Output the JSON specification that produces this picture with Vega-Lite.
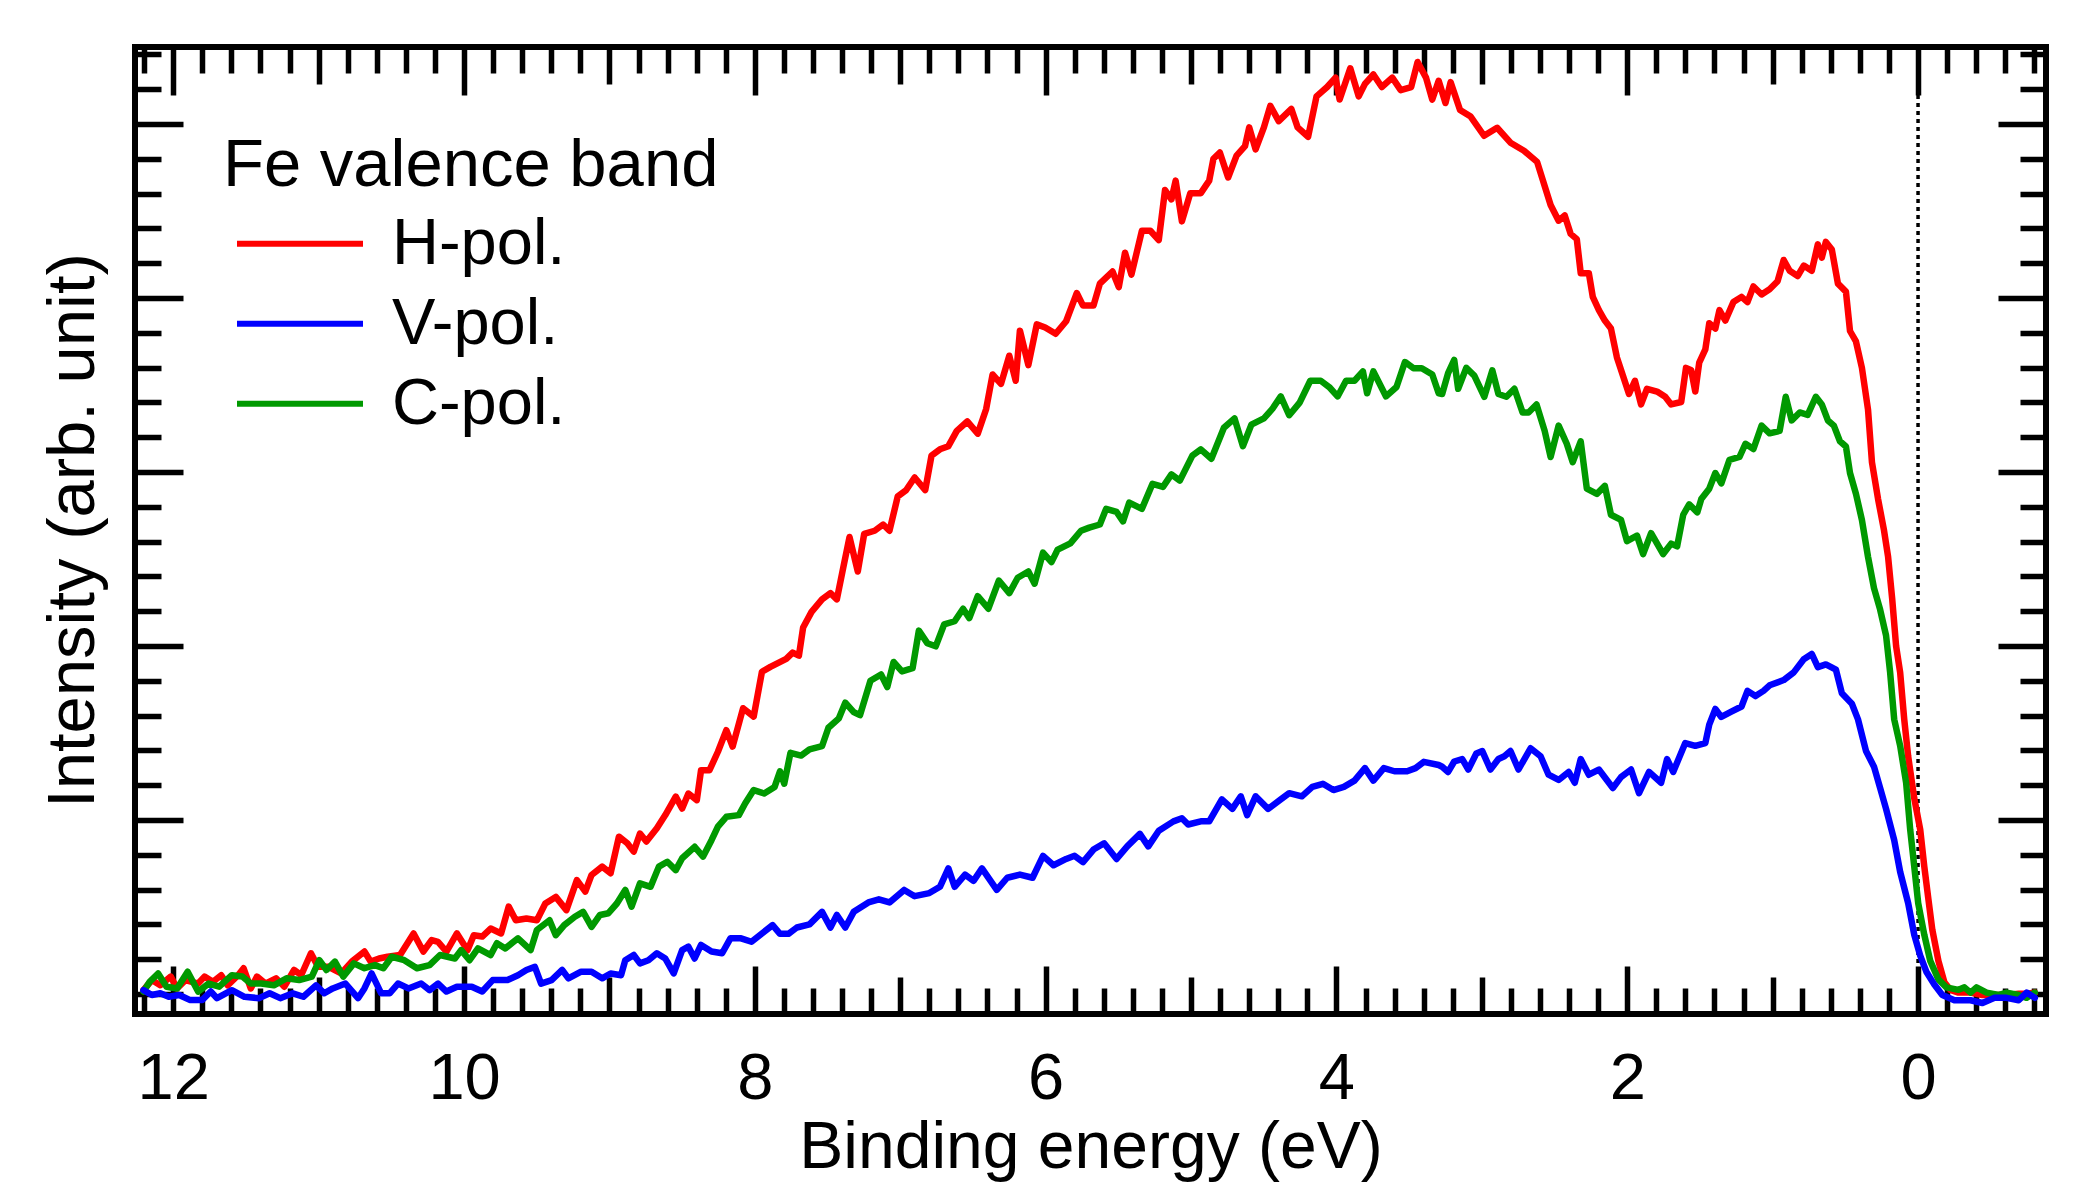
{
  "$schema": "https://vega.github.io/schema/vega-lite/v6.json",
  "width": 1911,
  "height": 967,
  "autosize": {"type": "none"},
  "padding": {"left": 135, "top": 47, "right": 50, "bottom": 169},
  "background": "white",
  "data": {"values": [
    {"E":12.205,"I":0.11,"s":"H-pol."},{"E":12.147,"I":0.40,"s":"H-pol."},{"E":12.089,"I":0.25,"s":"H-pol."},{"E":12.017,"I":0.50,"s":"H-pol."},{"E":11.974,"I":0.16,"s":"H-pol."},{"E":11.916,"I":0.40,"s":"H-pol."},{"E":11.829,"I":0.30,"s":"H-pol."},{"E":11.785,"I":0.50,"s":"H-pol."},{"E":11.727,"I":0.35,"s":"H-pol."},{"E":11.670,"I":0.54,"s":"H-pol."},{"E":11.626,"I":0.25,"s":"H-pol."},{"E":11.554,"I":0.54,"s":"H-pol."},{"E":11.516,"I":0.74,"s":"H-pol."},{"E":11.467,"I":0.16,"s":"H-pol."},{"E":11.424,"I":0.50,"s":"H-pol."},{"E":11.366,"I":0.30,"s":"H-pol."},{"E":11.293,"I":0.45,"s":"H-pol."},{"E":11.236,"I":0.21,"s":"H-pol."},{"E":11.169,"I":0.69,"s":"H-pol."},{"E":11.120,"I":0.54,"s":"H-pol."},{"E":11.053,"I":1.17,"s":"H-pol."},{"E":11.004,"I":0.78,"s":"H-pol."},{"E":10.932,"I":0.78,"s":"H-pol."},{"E":10.845,"I":0.59,"s":"H-pol."},{"E":10.772,"I":0.93,"s":"H-pol."},{"E":10.685,"I":1.22,"s":"H-pol."},{"E":10.642,"I":0.93,"s":"H-pol."},{"E":10.584,"I":1.02,"s":"H-pol."},{"E":10.526,"I":1.07,"s":"H-pol."},{"E":10.440,"I":1.12,"s":"H-pol."},{"E":10.347,"I":1.74,"s":"H-pol."},{"E":10.280,"I":1.22,"s":"H-pol."},{"E":10.222,"I":1.55,"s":"H-pol."},{"E":10.179,"I":1.50,"s":"H-pol."},{"E":10.121,"I":1.22,"s":"H-pol."},{"E":10.049,"I":1.74,"s":"H-pol."},{"E":9.976,"I":1.26,"s":"H-pol."},{"E":9.933,"I":1.69,"s":"H-pol."},{"E":9.875,"I":1.65,"s":"H-pol."},{"E":9.817,"I":1.88,"s":"H-pol."},{"E":9.745,"I":1.74,"s":"H-pol."},{"E":9.693,"I":2.51,"s":"H-pol."},{"E":9.644,"I":2.12,"s":"H-pol."},{"E":9.571,"I":2.17,"s":"H-pol."},{"E":9.499,"I":2.12,"s":"H-pol."},{"E":9.441,"I":2.60,"s":"H-pol."},{"E":9.369,"I":2.79,"s":"H-pol."},{"E":9.296,"I":2.41,"s":"H-pol."},{"E":9.224,"I":3.27,"s":"H-pol."},{"E":9.166,"I":2.94,"s":"H-pol."},{"E":9.123,"I":3.42,"s":"H-pol."},{"E":9.050,"I":3.66,"s":"H-pol."},{"E":8.992,"I":3.47,"s":"H-pol."},{"E":8.935,"I":4.52,"s":"H-pol."},{"E":8.877,"I":4.33,"s":"H-pol."},{"E":8.833,"I":4.09,"s":"H-pol."},{"E":8.790,"I":4.61,"s":"H-pol."},{"E":8.746,"I":4.38,"s":"H-pol."},{"E":8.674,"I":4.76,"s":"H-pol."},{"E":8.616,"I":5.14,"s":"H-pol."},{"E":8.544,"I":5.67,"s":"H-pol."},{"E":8.500,"I":5.33,"s":"H-pol."},{"E":8.457,"I":5.76,"s":"H-pol."},{"E":8.399,"I":5.57,"s":"H-pol."},{"E":8.370,"I":6.43,"s":"H-pol."},{"E":8.312,"I":6.43,"s":"H-pol."},{"E":8.254,"I":6.96,"s":"H-pol."},{"E":8.196,"I":7.58,"s":"H-pol."},{"E":8.153,"I":7.11,"s":"H-pol."},{"E":8.081,"I":8.21,"s":"H-pol."},{"E":8.008,"I":7.97,"s":"H-pol."},{"E":7.951,"I":9.26,"s":"H-pol."},{"E":7.893,"I":9.40,"s":"H-pol."},{"E":7.784,"I":9.63,"s":"H-pol."},{"E":7.740,"I":9.81,"s":"H-pol."},{"E":7.697,"I":9.72,"s":"H-pol."},{"E":7.668,"I":10.53,"s":"H-pol."},{"E":7.610,"I":10.98,"s":"H-pol."},{"E":7.538,"I":11.34,"s":"H-pol."},{"E":7.480,"I":11.52,"s":"H-pol."},{"E":7.436,"I":11.34,"s":"H-pol."},{"E":7.393,"I":12.23,"s":"H-pol."},{"E":7.349,"I":13.13,"s":"H-pol."},{"E":7.292,"I":12.14,"s":"H-pol."},{"E":7.248,"I":13.22,"s":"H-pol."},{"E":7.176,"I":13.31,"s":"H-pol."},{"E":7.118,"I":13.49,"s":"H-pol."},{"E":7.074,"I":13.31,"s":"H-pol."},{"E":7.017,"I":14.30,"s":"H-pol."},{"E":6.959,"I":14.48,"s":"H-pol."},{"E":6.901,"I":14.84,"s":"H-pol."},{"E":6.828,"I":14.48,"s":"H-pol."},{"E":6.785,"I":15.47,"s":"H-pol."},{"E":6.727,"I":15.65,"s":"H-pol."},{"E":6.669,"I":15.74,"s":"H-pol."},{"E":6.611,"I":16.18,"s":"H-pol."},{"E":6.539,"I":16.45,"s":"H-pol."},{"E":6.467,"I":16.10,"s":"H-pol."},{"E":6.409,"I":16.81,"s":"H-pol."},{"E":6.365,"I":17.80,"s":"H-pol."},{"E":6.307,"I":17.53,"s":"H-pol."},{"E":6.250,"I":18.34,"s":"H-pol."},{"E":6.206,"I":17.62,"s":"H-pol."},{"E":6.177,"I":19.06,"s":"H-pol."},{"E":6.119,"I":18.07,"s":"H-pol."},{"E":6.061,"I":19.24,"s":"H-pol."},{"E":6.003,"I":19.15,"s":"H-pol."},{"E":5.931,"I":18.97,"s":"H-pol."},{"E":5.859,"I":19.33,"s":"H-pol."},{"E":5.786,"I":20.14,"s":"H-pol."},{"E":5.743,"I":19.78,"s":"H-pol."},{"E":5.671,"I":19.78,"s":"H-pol."},{"E":5.627,"I":20.41,"s":"H-pol."},{"E":5.540,"I":20.76,"s":"H-pol."},{"E":5.497,"I":20.31,"s":"H-pol."},{"E":5.454,"I":21.30,"s":"H-pol."},{"E":5.410,"I":20.67,"s":"H-pol."},{"E":5.338,"I":21.93,"s":"H-pol."},{"E":5.280,"I":21.93,"s":"H-pol."},{"E":5.222,"I":21.66,"s":"H-pol."},{"E":5.179,"I":23.10,"s":"H-pol."},{"E":5.135,"I":22.83,"s":"H-pol."},{"E":5.106,"I":23.37,"s":"H-pol."},{"E":5.063,"I":22.20,"s":"H-pol."},{"E":5.005,"I":23.01,"s":"H-pol."},{"E":4.933,"I":23.01,"s":"H-pol."},{"E":4.875,"I":23.37,"s":"H-pol."},{"E":4.846,"I":24.00,"s":"H-pol."},{"E":4.802,"I":24.18,"s":"H-pol."},{"E":4.745,"I":23.46,"s":"H-pol."},{"E":4.687,"I":24.09,"s":"H-pol."},{"E":4.629,"I":24.36,"s":"H-pol."},{"E":4.600,"I":24.90,"s":"H-pol."},{"E":4.556,"I":24.27,"s":"H-pol."},{"E":4.499,"I":24.90,"s":"H-pol."},{"E":4.455,"I":25.52,"s":"H-pol."},{"E":4.397,"I":25.08,"s":"H-pol."},{"E":4.310,"I":25.43,"s":"H-pol."},{"E":4.267,"I":24.90,"s":"H-pol."},{"E":4.195,"I":24.63,"s":"H-pol."},{"E":4.137,"I":25.79,"s":"H-pol."},{"E":4.064,"I":26.06,"s":"H-pol."},{"E":4.006,"I":26.33,"s":"H-pol."},{"E":3.978,"I":25.70,"s":"H-pol."},{"E":3.905,"I":26.60,"s":"H-pol."},{"E":3.847,"I":25.79,"s":"H-pol."},{"E":3.804,"I":26.15,"s":"H-pol."},{"E":3.746,"I":26.42,"s":"H-pol."},{"E":3.688,"I":26.06,"s":"H-pol."},{"E":3.616,"I":26.33,"s":"H-pol."},{"E":3.558,"I":25.97,"s":"H-pol."},{"E":3.486,"I":26.06,"s":"H-pol."},{"E":3.442,"I":26.78,"s":"H-pol."},{"E":3.384,"I":26.33,"s":"H-pol."},{"E":3.341,"I":25.70,"s":"H-pol."},{"E":3.297,"I":26.24,"s":"H-pol."},{"E":3.250,"I":25.60,"s":"H-pol."},{"E":3.215,"I":26.20,"s":"H-pol."},{"E":3.150,"I":25.40,"s":"H-pol."},{"E":3.077,"I":25.21,"s":"H-pol."},{"E":2.985,"I":24.66,"s":"H-pol."},{"E":2.895,"I":24.89,"s":"H-pol."},{"E":2.800,"I":24.45,"s":"H-pol."},{"E":2.710,"I":24.23,"s":"H-pol."},{"E":2.620,"I":23.91,"s":"H-pol."},{"E":2.527,"I":22.67,"s":"H-pol."},{"E":2.472,"I":22.22,"s":"H-pol."},{"E":2.430,"I":22.37,"s":"H-pol."},{"E":2.389,"I":21.84,"s":"H-pol."},{"E":2.347,"I":21.69,"s":"H-pol."},{"E":2.320,"I":20.71,"s":"H-pol."},{"E":2.264,"I":20.71,"s":"H-pol."},{"E":2.237,"I":20.03,"s":"H-pol."},{"E":2.195,"I":19.65,"s":"H-pol."},{"E":2.154,"I":19.35,"s":"H-pol."},{"E":2.112,"I":19.12,"s":"H-pol."},{"E":2.071,"I":18.29,"s":"H-pol."},{"E":2.030,"I":17.77,"s":"H-pol."},{"E":1.988,"I":17.24,"s":"H-pol."},{"E":1.947,"I":17.62,"s":"H-pol."},{"E":1.905,"I":16.94,"s":"H-pol."},{"E":1.864,"I":17.39,"s":"H-pol."},{"E":1.795,"I":17.31,"s":"H-pol."},{"E":1.739,"I":17.16,"s":"H-pol."},{"E":1.698,"I":16.94,"s":"H-pol."},{"E":1.629,"I":17.01,"s":"H-pol."},{"E":1.596,"I":17.99,"s":"H-pol."},{"E":1.560,"I":17.92,"s":"H-pol."},{"E":1.532,"I":17.31,"s":"H-pol."},{"E":1.505,"I":18.14,"s":"H-pol."},{"E":1.463,"I":18.52,"s":"H-pol."},{"E":1.436,"I":19.27,"s":"H-pol."},{"E":1.394,"I":19.12,"s":"H-pol."},{"E":1.366,"I":19.65,"s":"H-pol."},{"E":1.325,"I":19.35,"s":"H-pol."},{"E":1.270,"I":19.88,"s":"H-pol."},{"E":1.214,"I":20.03,"s":"H-pol."},{"E":1.173,"I":19.88,"s":"H-pol."},{"E":1.132,"I":20.33,"s":"H-pol."},{"E":1.076,"I":20.10,"s":"H-pol."},{"E":1.021,"I":20.25,"s":"H-pol."},{"E":0.966,"I":20.48,"s":"H-pol."},{"E":0.924,"I":21.09,"s":"H-pol."},{"E":0.883,"I":20.78,"s":"H-pol."},{"E":0.828,"I":20.63,"s":"H-pol."},{"E":0.786,"I":20.93,"s":"H-pol."},{"E":0.731,"I":20.78,"s":"H-pol."},{"E":0.689,"I":21.54,"s":"H-pol."},{"E":0.662,"I":21.16,"s":"H-pol."},{"E":0.634,"I":21.61,"s":"H-pol."},{"E":0.593,"I":21.39,"s":"H-pol."},{"E":0.551,"I":20.41,"s":"H-pol."},{"E":0.496,"I":20.18,"s":"H-pol."},{"E":0.468,"I":19.05,"s":"H-pol."},{"E":0.427,"I":18.75,"s":"H-pol."},{"E":0.386,"I":17.99,"s":"H-pol."},{"E":0.344,"I":16.79,"s":"H-pol."},{"E":0.317,"I":15.28,"s":"H-pol."},{"E":0.275,"I":14.22,"s":"H-pol."},{"E":0.234,"I":13.32,"s":"H-pol."},{"E":0.206,"I":12.56,"s":"H-pol."},{"E":0.178,"I":11.36,"s":"H-pol."},{"E":0.151,"I":10.00,"s":"H-pol."},{"E":0.123,"I":9.24,"s":"H-pol."},{"E":0.095,"I":7.89,"s":"H-pol."},{"E":0.068,"I":6.83,"s":"H-pol."},{"E":0.026,"I":5.62,"s":"H-pol."},{"E":-0.015,"I":4.72,"s":"H-pol."},{"E":-0.043,"I":3.66,"s":"H-pol."},{"E":-0.070,"I":2.76,"s":"H-pol."},{"E":-0.098,"I":1.85,"s":"H-pol."},{"E":-0.140,"I":0.95,"s":"H-pol."},{"E":-0.181,"I":0.34,"s":"H-pol."},{"E":-0.222,"I":0.12,"s":"H-pol."},{"E":-0.278,"I":0.04,"s":"H-pol."},{"E":-0.361,"I":0.04,"s":"H-pol."},{"E":-0.443,"I":-0.03,"s":"H-pol."},{"E":-0.526,"I":-0.03,"s":"H-pol."},{"E":-0.609,"I":-0.03,"s":"H-pol."},{"E":-0.692,"I":0.01,"s":"H-pol."},{"E":-0.747,"I":0.01,"s":"H-pol."},{"E":-0.803,"I":0.04,"s":"H-pol."},

    {"E":12.205,"I":0.07,"s":"C-pol."},{"E":12.162,"I":0.35,"s":"C-pol."},{"E":12.104,"I":0.59,"s":"C-pol."},{"E":12.046,"I":0.21,"s":"C-pol."},{"E":11.974,"I":0.16,"s":"C-pol."},{"E":11.901,"I":0.64,"s":"C-pol."},{"E":11.829,"I":0.07,"s":"C-pol."},{"E":11.757,"I":0.30,"s":"C-pol."},{"E":11.684,"I":0.21,"s":"C-pol."},{"E":11.597,"I":0.54,"s":"C-pol."},{"E":11.525,"I":0.50,"s":"C-pol."},{"E":11.467,"I":0.30,"s":"C-pol."},{"E":11.395,"I":0.30,"s":"C-pol."},{"E":11.308,"I":0.25,"s":"C-pol."},{"E":11.221,"I":0.45,"s":"C-pol."},{"E":11.134,"I":0.40,"s":"C-pol."},{"E":11.047,"I":0.50,"s":"C-pol."},{"E":10.995,"I":0.97,"s":"C-pol."},{"E":10.946,"I":0.69,"s":"C-pol."},{"E":10.888,"I":0.93,"s":"C-pol."},{"E":10.830,"I":0.50,"s":"C-pol."},{"E":10.758,"I":0.88,"s":"C-pol."},{"E":10.685,"I":0.74,"s":"C-pol."},{"E":10.613,"I":0.83,"s":"C-pol."},{"E":10.555,"I":0.74,"s":"C-pol."},{"E":10.497,"I":1.07,"s":"C-pol."},{"E":10.411,"I":0.97,"s":"C-pol."},{"E":10.324,"I":0.74,"s":"C-pol."},{"E":10.237,"I":0.83,"s":"C-pol."},{"E":10.165,"I":1.12,"s":"C-pol."},{"E":10.063,"I":1.02,"s":"C-pol."},{"E":10.020,"I":1.26,"s":"C-pol."},{"E":9.962,"I":0.97,"s":"C-pol."},{"E":9.904,"I":1.31,"s":"C-pol."},{"E":9.817,"I":1.12,"s":"C-pol."},{"E":9.774,"I":1.46,"s":"C-pol."},{"E":9.716,"I":1.31,"s":"C-pol."},{"E":9.629,"I":1.60,"s":"C-pol."},{"E":9.542,"I":1.26,"s":"C-pol."},{"E":9.499,"I":1.84,"s":"C-pol."},{"E":9.412,"I":2.12,"s":"C-pol."},{"E":9.369,"I":1.69,"s":"C-pol."},{"E":9.311,"I":1.98,"s":"C-pol."},{"E":9.238,"I":2.22,"s":"C-pol."},{"E":9.181,"I":2.36,"s":"C-pol."},{"E":9.123,"I":1.93,"s":"C-pol."},{"E":9.065,"I":2.27,"s":"C-pol."},{"E":9.007,"I":2.32,"s":"C-pol."},{"E":8.949,"I":2.60,"s":"C-pol."},{"E":8.891,"I":2.99,"s":"C-pol."},{"E":8.848,"I":2.51,"s":"C-pol."},{"E":8.790,"I":3.18,"s":"C-pol."},{"E":8.717,"I":3.08,"s":"C-pol."},{"E":8.660,"I":3.66,"s":"C-pol."},{"E":8.602,"I":3.80,"s":"C-pol."},{"E":8.544,"I":3.56,"s":"C-pol."},{"E":8.500,"I":3.90,"s":"C-pol."},{"E":8.414,"I":4.23,"s":"C-pol."},{"E":8.356,"I":3.95,"s":"C-pol."},{"E":8.298,"I":4.42,"s":"C-pol."},{"E":8.254,"I":4.81,"s":"C-pol."},{"E":8.196,"I":5.09,"s":"C-pol."},{"E":8.110,"I":5.14,"s":"C-pol."},{"E":8.066,"I":5.48,"s":"C-pol."},{"E":8.008,"I":5.86,"s":"C-pol."},{"E":7.936,"I":5.76,"s":"C-pol."},{"E":7.864,"I":5.95,"s":"C-pol."},{"E":7.827,"I":6.40,"s":"C-pol."},{"E":7.798,"I":6.04,"s":"C-pol."},{"E":7.755,"I":6.93,"s":"C-pol."},{"E":7.682,"I":6.85,"s":"C-pol."},{"E":7.624,"I":7.03,"s":"C-pol."},{"E":7.538,"I":7.12,"s":"C-pol."},{"E":7.494,"I":7.65,"s":"C-pol."},{"E":7.422,"I":7.92,"s":"C-pol."},{"E":7.378,"I":8.37,"s":"C-pol."},{"E":7.320,"I":8.10,"s":"C-pol."},{"E":7.277,"I":8.01,"s":"C-pol."},{"E":7.205,"I":9.00,"s":"C-pol."},{"E":7.132,"I":9.18,"s":"C-pol."},{"E":7.089,"I":8.82,"s":"C-pol."},{"E":7.046,"I":9.54,"s":"C-pol."},{"E":6.988,"I":9.27,"s":"C-pol."},{"E":6.915,"I":9.36,"s":"C-pol."},{"E":6.872,"I":10.44,"s":"C-pol."},{"E":6.814,"I":10.08,"s":"C-pol."},{"E":6.756,"I":9.99,"s":"C-pol."},{"E":6.698,"I":10.62,"s":"C-pol."},{"E":6.626,"I":10.71,"s":"C-pol."},{"E":6.568,"I":11.07,"s":"C-pol."},{"E":6.525,"I":10.80,"s":"C-pol."},{"E":6.467,"I":11.43,"s":"C-pol."},{"E":6.394,"I":11.07,"s":"C-pol."},{"E":6.322,"I":11.88,"s":"C-pol."},{"E":6.250,"I":11.52,"s":"C-pol."},{"E":6.192,"I":11.96,"s":"C-pol."},{"E":6.119,"I":12.14,"s":"C-pol."},{"E":6.076,"I":11.79,"s":"C-pol."},{"E":6.018,"I":12.68,"s":"C-pol."},{"E":5.960,"I":12.41,"s":"C-pol."},{"E":5.917,"I":12.77,"s":"C-pol."},{"E":5.830,"I":12.95,"s":"C-pol."},{"E":5.757,"I":13.31,"s":"C-pol."},{"E":5.700,"I":13.40,"s":"C-pol."},{"E":5.627,"I":13.49,"s":"C-pol."},{"E":5.584,"I":13.94,"s":"C-pol."},{"E":5.512,"I":13.85,"s":"C-pol."},{"E":5.468,"I":13.58,"s":"C-pol."},{"E":5.425,"I":14.12,"s":"C-pol."},{"E":5.338,"I":13.94,"s":"C-pol."},{"E":5.265,"I":14.66,"s":"C-pol."},{"E":5.193,"I":14.57,"s":"C-pol."},{"E":5.135,"I":14.93,"s":"C-pol."},{"E":5.077,"I":14.75,"s":"C-pol."},{"E":4.991,"I":15.47,"s":"C-pol."},{"E":4.933,"I":15.65,"s":"C-pol."},{"E":4.860,"I":15.38,"s":"C-pol."},{"E":4.774,"I":16.27,"s":"C-pol."},{"E":4.701,"I":16.54,"s":"C-pol."},{"E":4.643,"I":15.74,"s":"C-pol."},{"E":4.585,"I":16.36,"s":"C-pol."},{"E":4.499,"I":16.54,"s":"C-pol."},{"E":4.441,"I":16.81,"s":"C-pol."},{"E":4.383,"I":17.17,"s":"C-pol."},{"E":4.325,"I":16.63,"s":"C-pol."},{"E":4.253,"I":16.99,"s":"C-pol."},{"E":4.180,"I":17.62,"s":"C-pol."},{"E":4.108,"I":17.62,"s":"C-pol."},{"E":4.050,"I":17.44,"s":"C-pol."},{"E":3.992,"I":17.17,"s":"C-pol."},{"E":3.934,"I":17.62,"s":"C-pol."},{"E":3.876,"I":17.62,"s":"C-pol."},{"E":3.818,"I":17.89,"s":"C-pol."},{"E":3.789,"I":17.26,"s":"C-pol."},{"E":3.746,"I":17.89,"s":"C-pol."},{"E":3.659,"I":17.17,"s":"C-pol."},{"E":3.587,"I":17.44,"s":"C-pol."},{"E":3.529,"I":18.16,"s":"C-pol."},{"E":3.471,"I":17.98,"s":"C-pol."},{"E":3.413,"I":17.98,"s":"C-pol."},{"E":3.341,"I":17.80,"s":"C-pol."},{"E":3.297,"I":17.26,"s":"C-pol."},{"E":3.273,"I":17.24,"s":"C-pol."},{"E":3.232,"I":17.84,"s":"C-pol."},{"E":3.190,"I":18.22,"s":"C-pol."},{"E":3.163,"I":17.39,"s":"C-pol."},{"E":3.107,"I":17.99,"s":"C-pol."},{"E":3.052,"I":17.77,"s":"C-pol."},{"E":2.983,"I":17.16,"s":"C-pol."},{"E":2.928,"I":17.92,"s":"C-pol."},{"E":2.886,"I":17.24,"s":"C-pol."},{"E":2.831,"I":17.16,"s":"C-pol."},{"E":2.776,"I":17.39,"s":"C-pol."},{"E":2.720,"I":16.71,"s":"C-pol."},{"E":2.679,"I":16.71,"s":"C-pol."},{"E":2.624,"I":16.94,"s":"C-pol."},{"E":2.568,"I":16.18,"s":"C-pol."},{"E":2.527,"I":15.43,"s":"C-pol."},{"E":2.472,"I":16.33,"s":"C-pol."},{"E":2.416,"I":15.81,"s":"C-pol."},{"E":2.375,"I":15.28,"s":"C-pol."},{"E":2.320,"I":15.88,"s":"C-pol."},{"E":2.278,"I":14.52,"s":"C-pol."},{"E":2.209,"I":14.37,"s":"C-pol."},{"E":2.154,"I":14.60,"s":"C-pol."},{"E":2.112,"I":13.77,"s":"C-pol."},{"E":2.043,"I":13.62,"s":"C-pol."},{"E":2.002,"I":13.01,"s":"C-pol."},{"E":1.933,"I":13.17,"s":"C-pol."},{"E":1.891,"I":12.64,"s":"C-pol."},{"E":1.836,"I":13.24,"s":"C-pol."},{"E":1.753,"I":12.64,"s":"C-pol."},{"E":1.698,"I":12.94,"s":"C-pol."},{"E":1.657,"I":12.86,"s":"C-pol."},{"E":1.615,"I":13.77,"s":"C-pol."},{"E":1.574,"I":14.07,"s":"C-pol."},{"E":1.518,"I":13.84,"s":"C-pol."},{"E":1.491,"I":14.22,"s":"C-pol."},{"E":1.436,"I":14.52,"s":"C-pol."},{"E":1.394,"I":14.97,"s":"C-pol."},{"E":1.353,"I":14.67,"s":"C-pol."},{"E":1.297,"I":15.35,"s":"C-pol."},{"E":1.228,"I":15.43,"s":"C-pol."},{"E":1.187,"I":15.81,"s":"C-pol."},{"E":1.132,"I":15.66,"s":"C-pol."},{"E":1.076,"I":16.33,"s":"C-pol."},{"E":1.021,"I":16.11,"s":"C-pol."},{"E":0.952,"I":16.18,"s":"C-pol."},{"E":0.910,"I":17.16,"s":"C-pol."},{"E":0.869,"I":16.48,"s":"C-pol."},{"E":0.814,"I":16.71,"s":"C-pol."},{"E":0.759,"I":16.64,"s":"C-pol."},{"E":0.703,"I":17.16,"s":"C-pol."},{"E":0.662,"I":16.94,"s":"C-pol."},{"E":0.620,"I":16.48,"s":"C-pol."},{"E":0.579,"I":16.33,"s":"C-pol."},{"E":0.537,"I":15.88,"s":"C-pol."},{"E":0.496,"I":15.73,"s":"C-pol."},{"E":0.468,"I":14.97,"s":"C-pol."},{"E":0.427,"I":14.37,"s":"C-pol."},{"E":0.386,"I":13.62,"s":"C-pol."},{"E":0.344,"I":12.56,"s":"C-pol."},{"E":0.303,"I":11.66,"s":"C-pol."},{"E":0.261,"I":11.05,"s":"C-pol."},{"E":0.220,"I":10.30,"s":"C-pol."},{"E":0.192,"I":9.24,"s":"C-pol."},{"E":0.164,"I":7.89,"s":"C-pol."},{"E":0.123,"I":7.13,"s":"C-pol."},{"E":0.082,"I":6.07,"s":"C-pol."},{"E":0.054,"I":4.72,"s":"C-pol."},{"E":0.026,"I":3.66,"s":"C-pol."},{"E":-0.001,"I":2.61,"s":"C-pol."},{"E":-0.043,"I":1.70,"s":"C-pol."},{"E":-0.084,"I":0.95,"s":"C-pol."},{"E":-0.140,"I":0.42,"s":"C-pol."},{"E":-0.195,"I":0.19,"s":"C-pol."},{"E":-0.278,"I":0.12,"s":"C-pol."},{"E":-0.319,"I":0.19,"s":"C-pol."},{"E":-0.361,"I":0.04,"s":"C-pol."},{"E":-0.402,"I":0.19,"s":"C-pol."},{"E":-0.471,"I":0.04,"s":"C-pol."},{"E":-0.554,"I":-0.03,"s":"C-pol."},{"E":-0.609,"I":0.04,"s":"C-pol."},{"E":-0.692,"I":-0.03,"s":"C-pol."},{"E":-0.747,"I":-0.11,"s":"C-pol."},{"E":-0.803,"I":0.04,"s":"C-pol."},

    {"E":12.205,"I":0.11,"s":"V-pol."},{"E":12.147,"I":-0.03,"s":"V-pol."},{"E":12.089,"I":0.02,"s":"V-pol."},{"E":12.031,"I":-0.08,"s":"V-pol."},{"E":11.959,"I":-0.03,"s":"V-pol."},{"E":11.887,"I":-0.17,"s":"V-pol."},{"E":11.800,"I":-0.17,"s":"V-pol."},{"E":11.742,"I":0.07,"s":"V-pol."},{"E":11.699,"I":-0.12,"s":"V-pol."},{"E":11.597,"I":0.11,"s":"V-pol."},{"E":11.510,"I":-0.08,"s":"V-pol."},{"E":11.409,"I":-0.12,"s":"V-pol."},{"E":11.337,"I":0.02,"s":"V-pol."},{"E":11.264,"I":-0.12,"s":"V-pol."},{"E":11.178,"I":0.02,"s":"V-pol."},{"E":11.105,"I":-0.08,"s":"V-pol."},{"E":11.018,"I":0.25,"s":"V-pol."},{"E":10.961,"I":0.02,"s":"V-pol."},{"E":10.903,"I":0.16,"s":"V-pol."},{"E":10.816,"I":0.30,"s":"V-pol."},{"E":10.729,"I":-0.12,"s":"V-pol."},{"E":10.685,"I":0.16,"s":"V-pol."},{"E":10.636,"I":0.59,"s":"V-pol."},{"E":10.570,"I":0.02,"s":"V-pol."},{"E":10.512,"I":0.02,"s":"V-pol."},{"E":10.454,"I":0.30,"s":"V-pol."},{"E":10.382,"I":0.16,"s":"V-pol."},{"E":10.295,"I":0.30,"s":"V-pol."},{"E":10.237,"I":0.11,"s":"V-pol."},{"E":10.179,"I":0.30,"s":"V-pol."},{"E":10.121,"I":0.07,"s":"V-pol."},{"E":10.049,"I":0.21,"s":"V-pol."},{"E":9.947,"I":0.21,"s":"V-pol."},{"E":9.875,"I":0.07,"s":"V-pol."},{"E":9.803,"I":0.40,"s":"V-pol."},{"E":9.701,"I":0.40,"s":"V-pol."},{"E":9.629,"I":0.54,"s":"V-pol."},{"E":9.571,"I":0.69,"s":"V-pol."},{"E":9.513,"I":0.78,"s":"V-pol."},{"E":9.470,"I":0.30,"s":"V-pol."},{"E":9.398,"I":0.40,"s":"V-pol."},{"E":9.325,"I":0.69,"s":"V-pol."},{"E":9.282,"I":0.45,"s":"V-pol."},{"E":9.195,"I":0.64,"s":"V-pol."},{"E":9.123,"I":0.64,"s":"V-pol."},{"E":9.050,"I":0.45,"s":"V-pol."},{"E":8.992,"I":0.59,"s":"V-pol."},{"E":8.920,"I":0.54,"s":"V-pol."},{"E":8.891,"I":0.97,"s":"V-pol."},{"E":8.833,"I":1.12,"s":"V-pol."},{"E":8.790,"I":0.88,"s":"V-pol."},{"E":8.732,"I":0.97,"s":"V-pol."},{"E":8.674,"I":1.17,"s":"V-pol."},{"E":8.616,"I":1.02,"s":"V-pol."},{"E":8.558,"I":0.59,"s":"V-pol."},{"E":8.500,"I":1.26,"s":"V-pol."},{"E":8.457,"I":1.36,"s":"V-pol."},{"E":8.414,"I":1.02,"s":"V-pol."},{"E":8.370,"I":1.41,"s":"V-pol."},{"E":8.298,"I":1.22,"s":"V-pol."},{"E":8.225,"I":1.17,"s":"V-pol."},{"E":8.168,"I":1.60,"s":"V-pol."},{"E":8.095,"I":1.60,"s":"V-pol."},{"E":8.023,"I":1.50,"s":"V-pol."},{"E":7.951,"I":1.74,"s":"V-pol."},{"E":7.878,"I":1.98,"s":"V-pol."},{"E":7.827,"I":1.73,"s":"V-pol."},{"E":7.769,"I":1.73,"s":"V-pol."},{"E":7.711,"I":1.91,"s":"V-pol."},{"E":7.624,"I":2.00,"s":"V-pol."},{"E":7.538,"I":2.36,"s":"V-pol."},{"E":7.480,"I":1.91,"s":"V-pol."},{"E":7.436,"I":2.27,"s":"V-pol."},{"E":7.378,"I":1.91,"s":"V-pol."},{"E":7.320,"I":2.36,"s":"V-pol."},{"E":7.219,"I":2.63,"s":"V-pol."},{"E":7.147,"I":2.72,"s":"V-pol."},{"E":7.074,"I":2.63,"s":"V-pol."},{"E":6.973,"I":2.99,"s":"V-pol."},{"E":6.901,"I":2.81,"s":"V-pol."},{"E":6.800,"I":2.90,"s":"V-pol."},{"E":6.727,"I":3.08,"s":"V-pol."},{"E":6.669,"I":3.61,"s":"V-pol."},{"E":6.626,"I":3.08,"s":"V-pol."},{"E":6.554,"I":3.43,"s":"V-pol."},{"E":6.496,"I":3.25,"s":"V-pol."},{"E":6.438,"I":3.61,"s":"V-pol."},{"E":6.336,"I":2.99,"s":"V-pol."},{"E":6.264,"I":3.34,"s":"V-pol."},{"E":6.177,"I":3.43,"s":"V-pol."},{"E":6.090,"I":3.34,"s":"V-pol."},{"E":6.018,"I":3.97,"s":"V-pol."},{"E":5.946,"I":3.70,"s":"V-pol."},{"E":5.859,"I":3.88,"s":"V-pol."},{"E":5.801,"I":3.97,"s":"V-pol."},{"E":5.743,"I":3.79,"s":"V-pol."},{"E":5.671,"I":4.15,"s":"V-pol."},{"E":5.598,"I":4.33,"s":"V-pol."},{"E":5.512,"I":3.88,"s":"V-pol."},{"E":5.439,"I":4.24,"s":"V-pol."},{"E":5.352,"I":4.60,"s":"V-pol."},{"E":5.294,"I":4.24,"s":"V-pol."},{"E":5.222,"I":4.69,"s":"V-pol."},{"E":5.121,"I":4.96,"s":"V-pol."},{"E":5.063,"I":5.05,"s":"V-pol."},{"E":5.020,"I":4.87,"s":"V-pol."},{"E":4.933,"I":4.96,"s":"V-pol."},{"E":4.875,"I":4.96,"s":"V-pol."},{"E":4.788,"I":5.59,"s":"V-pol."},{"E":4.716,"I":5.32,"s":"V-pol."},{"E":4.658,"I":5.68,"s":"V-pol."},{"E":4.614,"I":5.14,"s":"V-pol."},{"E":4.556,"I":5.68,"s":"V-pol."},{"E":4.470,"I":5.32,"s":"V-pol."},{"E":4.383,"I":5.59,"s":"V-pol."},{"E":4.325,"I":5.77,"s":"V-pol."},{"E":4.238,"I":5.68,"s":"V-pol."},{"E":4.166,"I":5.95,"s":"V-pol."},{"E":4.093,"I":6.04,"s":"V-pol."},{"E":4.021,"I":5.86,"s":"V-pol."},{"E":3.949,"I":5.95,"s":"V-pol."},{"E":3.876,"I":6.13,"s":"V-pol."},{"E":3.804,"I":6.49,"s":"V-pol."},{"E":3.746,"I":6.13,"s":"V-pol."},{"E":3.674,"I":6.49,"s":"V-pol."},{"E":3.601,"I":6.40,"s":"V-pol."},{"E":3.514,"I":6.40,"s":"V-pol."},{"E":3.456,"I":6.49,"s":"V-pol."},{"E":3.399,"I":6.67,"s":"V-pol."},{"E":3.297,"I":6.58,"s":"V-pol."},{"E":3.273,"I":6.53,"s":"V-pol."},{"E":3.232,"I":6.38,"s":"V-pol."},{"E":3.190,"I":6.68,"s":"V-pol."},{"E":3.135,"I":6.75,"s":"V-pol."},{"E":3.093,"I":6.45,"s":"V-pol."},{"E":3.038,"I":6.91,"s":"V-pol."},{"E":2.997,"I":6.98,"s":"V-pol."},{"E":2.941,"I":6.45,"s":"V-pol."},{"E":2.886,"I":6.75,"s":"V-pol."},{"E":2.845,"I":6.83,"s":"V-pol."},{"E":2.803,"I":6.98,"s":"V-pol."},{"E":2.748,"I":6.45,"s":"V-pol."},{"E":2.665,"I":7.06,"s":"V-pol."},{"E":2.596,"I":6.83,"s":"V-pol."},{"E":2.541,"I":6.30,"s":"V-pol."},{"E":2.472,"I":6.15,"s":"V-pol."},{"E":2.403,"I":6.38,"s":"V-pol."},{"E":2.361,"I":6.07,"s":"V-pol."},{"E":2.320,"I":6.75,"s":"V-pol."},{"E":2.264,"I":6.30,"s":"V-pol."},{"E":2.195,"I":6.45,"s":"V-pol."},{"E":2.099,"I":5.92,"s":"V-pol."},{"E":2.043,"I":6.23,"s":"V-pol."},{"E":1.974,"I":6.45,"s":"V-pol."},{"E":1.919,"I":5.77,"s":"V-pol."},{"E":1.850,"I":6.38,"s":"V-pol."},{"E":1.767,"I":6.07,"s":"V-pol."},{"E":1.726,"I":6.75,"s":"V-pol."},{"E":1.684,"I":6.38,"s":"V-pol."},{"E":1.601,"I":7.21,"s":"V-pol."},{"E":1.532,"I":7.13,"s":"V-pol."},{"E":1.463,"I":7.21,"s":"V-pol."},{"E":1.436,"I":7.74,"s":"V-pol."},{"E":1.394,"I":8.19,"s":"V-pol."},{"E":1.353,"I":7.96,"s":"V-pol."},{"E":1.284,"I":8.11,"s":"V-pol."},{"E":1.214,"I":8.26,"s":"V-pol."},{"E":1.173,"I":8.71,"s":"V-pol."},{"E":1.118,"I":8.56,"s":"V-pol."},{"E":1.063,"I":8.71,"s":"V-pol."},{"E":1.021,"I":8.87,"s":"V-pol."},{"E":0.924,"I":9.02,"s":"V-pol."},{"E":0.855,"I":9.24,"s":"V-pol."},{"E":0.786,"I":9.62,"s":"V-pol."},{"E":0.731,"I":9.77,"s":"V-pol."},{"E":0.689,"I":9.39,"s":"V-pol."},{"E":0.634,"I":9.47,"s":"V-pol."},{"E":0.565,"I":9.32,"s":"V-pol."},{"E":0.524,"I":8.64,"s":"V-pol."},{"E":0.455,"I":8.34,"s":"V-pol."},{"E":0.413,"I":7.89,"s":"V-pol."},{"E":0.358,"I":6.98,"s":"V-pol."},{"E":0.303,"I":6.53,"s":"V-pol."},{"E":0.261,"I":5.92,"s":"V-pol."},{"E":0.220,"I":5.32,"s":"V-pol."},{"E":0.164,"I":4.42,"s":"V-pol."},{"E":0.123,"I":3.51,"s":"V-pol."},{"E":0.068,"I":2.61,"s":"V-pol."},{"E":0.026,"I":1.70,"s":"V-pol."},{"E":-0.015,"I":1.10,"s":"V-pol."},{"E":-0.057,"I":0.64,"s":"V-pol."},{"E":-0.112,"I":0.27,"s":"V-pol."},{"E":-0.167,"I":-0.03,"s":"V-pol."},{"E":-0.250,"I":-0.18,"s":"V-pol."},{"E":-0.361,"I":-0.18,"s":"V-pol."},{"E":-0.443,"I":-0.26,"s":"V-pol."},{"E":-0.526,"I":-0.11,"s":"V-pol."},{"E":-0.609,"I":-0.11,"s":"V-pol."},{"E":-0.692,"I":-0.18,"s":"V-pol."},{"E":-0.747,"I":0.04,"s":"V-pol."},{"E":-0.803,"I":-0.11,"s":"V-pol."}
  ]},
  "layer": [
    {
      "data": {"values": [{"E": 0}]},
      "mark": {"type": "rule", "color": "black", "strokeWidth": 3.5, "strokeDash": [4, 4]},
      "encoding": {
        "x": {"field": "E", "type": "quantitative", "scale": {"domain": [-0.88, 12.263], "reverse": true, "nice": false, "zero": false}, "axis": null}
      }
    },
    {
      "mark": {"type": "line", "strokeWidth": 6.5, "strokeJoin": "round", "strokeCap": "round"},
      "encoding": {
        "x": {
          "field": "E", "type": "quantitative", "sort": null,
          "scale": {"domain": [-0.88, 12.263], "reverse": true, "nice": false, "zero": false},
          "axis": {
            "orient": "bottom", "values": [0, 2, 4, 6, 8, 10, 12], "ticks": false, "format": "d",
            "labelFontSize": 65, "labelBaseline": "alphabetic", "labelPadding": 84,
            "labelFlush": false, "labelOverlap": false,
            "title": "Binding energy (eV)", "titleFontSize": 66, "titleBaseline": "alphabetic", "titleY": 153
          }
        },
        "y": {
          "field": "I", "type": "quantitative",
          "scale": {"domain": [-0.575, 27.21], "nice": false, "zero": false},
          "axis": {
            "orient": "left", "ticks": false, "labels": false,
            "title": "Intensity (arb. unit)", "titleFontSize": 67, "titleBaseline": "alphabetic",
            "titleAngle": -90, "titleAlign": "center", "titleX": -42, "titleY": 483
          }
        },
        "color": {
          "field": "s", "type": "nominal",
          "scale": {"domain": ["H-pol.", "V-pol.", "C-pol."], "range": ["#ff0000", "#0000ff", "#009900"]},
          "legend": {
            "orient": "none", "legendX": 88, "legendY": 86, "padding": 0,
            "title": "Fe valence band", "titleFontSize": 67, "titleFontWeight": "normal", "titlePadding": 4, "titleLimit": 800,
            "symbolType": "stroke", "symbolSize": 15876, "symbolStrokeWidth": 6, "symbolOffset": 11,
            "labelFontSize": 65, "labelOffset": 26, "clipHeight": 79.5, "rowPadding": 0, "labelLimit": 400
          }
        },
        "order": {"field": "E", "type": "quantitative", "sort": "descending"}
      }
    },
    {
      "data": {"values": [{"E": 0, "I": 0}]},
      "mark": {"type": "point", "opacity": 0},
      "encoding": {
        "x": {"field": "E", "type": "quantitative", "scale": {"domain": [-0.88, 12.263], "reverse": true, "nice": false, "zero": false},
          "axis": {"orient": "bottom", "values": [0, 2, 4, 6, 8, 10, 12], "tickSize": -48, "labels": false, "title": null}},
        "y": {"field": "I", "type": "quantitative", "scale": {"domain": [-0.575, 27.21], "nice": false, "zero": false},
          "axis": {"orient": "left", "values": [0, 5, 10, 15, 20, 25], "tickSize": -48, "labels": false, "title": null}}
      }
    },
    {
      "data": {"values": [{"E": 0, "I": 0}]},
      "mark": {"type": "point", "opacity": 0},
      "encoding": {
        "x": {"field": "E", "type": "quantitative", "scale": {"domain": [-0.88, 12.263], "reverse": true, "nice": false, "zero": false},
          "axis": {"orient": "bottom", "values": [1, 3, 5, 7, 9, 11], "tickSize": -37, "labels": false, "title": null}},
        "y": {"field": "I", "type": "quantitative", "scale": {"domain": [-0.575, 27.21], "nice": false, "zero": false},
          "axis": {"orient": "left", "values": [1, 2, 3, 4, 6, 7, 8, 9, 11, 12, 13, 14, 16, 17, 18, 19, 21, 22, 23, 24, 26, 27], "tickSize": -26, "labels": false, "title": null}}
      }
    },
    {
      "data": {"values": [{"E": 0, "I": 0}]},
      "mark": {"type": "point", "opacity": 0},
      "encoding": {
        "x": {"field": "E", "type": "quantitative", "scale": {"domain": [-0.88, 12.263], "reverse": true, "nice": false, "zero": false},
          "axis": {"orient": "bottom", "values": [-0.8, -0.6, -0.4, -0.2, 0.2, 0.4, 0.6, 0.8, 1.2, 1.4, 1.6, 1.8, 2.2, 2.4, 2.6, 2.8, 3.2, 3.4, 3.6, 3.8, 4.2, 4.4, 4.6, 4.8, 5.2, 5.4, 5.6, 5.8, 6.2, 6.4, 6.6, 6.8, 7.2, 7.4, 7.6, 7.8, 8.2, 8.4, 8.6, 8.8, 9.2, 9.4, 9.6, 9.8, 10.2, 10.4, 10.6, 10.8, 11.2, 11.4, 11.6, 11.8, 12.2], "tickSize": -26, "labels": false, "title": null}},
        "y": {"field": "I", "type": "quantitative", "scale": {"domain": [-0.575, 27.21], "nice": false, "zero": false},
          "axis": {"orient": "right", "values": [0, 5, 10, 15, 20, 25], "tickSize": -48, "labels": false, "title": null}}
      }
    },
    {
      "data": {"values": [{"E": 0, "I": 0}]},
      "mark": {"type": "point", "opacity": 0},
      "encoding": {
        "x": {"field": "E", "type": "quantitative", "scale": {"domain": [-0.88, 12.263], "reverse": true, "nice": false, "zero": false},
          "axis": {"orient": "top", "values": [0, 2, 4, 6, 8, 10, 12], "tickSize": -48, "labels": false, "title": null}},
        "y": {"field": "I", "type": "quantitative", "scale": {"domain": [-0.575, 27.21], "nice": false, "zero": false},
          "axis": {"orient": "right", "values": [1, 2, 3, 4, 6, 7, 8, 9, 11, 12, 13, 14, 16, 17, 18, 19, 21, 22, 23, 24, 26, 27], "tickSize": -26, "labels": false, "title": null}}
      }
    },
    {
      "data": {"values": [{"E": 0, "I": 0}]},
      "mark": {"type": "point", "opacity": 0},
      "encoding": {
        "x": {"field": "E", "type": "quantitative", "scale": {"domain": [-0.88, 12.263], "reverse": true, "nice": false, "zero": false},
          "axis": {"orient": "top", "values": [1, 3, 5, 7, 9, 11], "tickSize": -37, "labels": false, "title": null}},
        "y": {"field": "I", "type": "quantitative", "scale": {"domain": [-0.575, 27.21], "nice": false, "zero": false}, "axis": null}
      }
    },
    {
      "data": {"values": [{"E": 0, "I": 0}]},
      "mark": {"type": "point", "opacity": 0},
      "encoding": {
        "x": {"field": "E", "type": "quantitative", "scale": {"domain": [-0.88, 12.263], "reverse": true, "nice": false, "zero": false},
          "axis": {"orient": "top", "values": [-0.8, -0.6, -0.4, -0.2, 0.2, 0.4, 0.6, 0.8, 1.2, 1.4, 1.6, 1.8, 2.2, 2.4, 2.6, 2.8, 3.2, 3.4, 3.6, 3.8, 4.2, 4.4, 4.6, 4.8, 5.2, 5.4, 5.6, 5.8, 6.2, 6.4, 6.6, 6.8, 7.2, 7.4, 7.6, 7.8, 8.2, 8.4, 8.6, 8.8, 9.2, 9.4, 9.6, 9.8, 10.2, 10.4, 10.6, 10.8, 11.2, 11.4, 11.6, 11.8, 12.2], "tickSize": -26, "labels": false, "title": null}},
        "y": {"field": "I", "type": "quantitative", "scale": {"domain": [-0.575, 27.21], "nice": false, "zero": false}, "axis": null}
      }
    }
  ],
  "resolve": {"axis": {"x": "independent", "y": "independent"}},
  "config": {
    "font": "Liberation Sans",
    "view": {"stroke": "black", "strokeWidth": 6},
    "axis": {
      "domain": false, "grid": false, "tickColor": "black", "tickWidth": 5.5, "tickCap": "butt",
      "labelColor": "black", "titleColor": "black", "labelFont": "Liberation Sans", "titleFont": "Liberation Sans",
      "titleFontWeight": "normal"
    },
    "legend": {"labelColor": "black", "titleColor": "black", "labelFont": "Liberation Sans", "titleFont": "Liberation Sans"}
  }
}
